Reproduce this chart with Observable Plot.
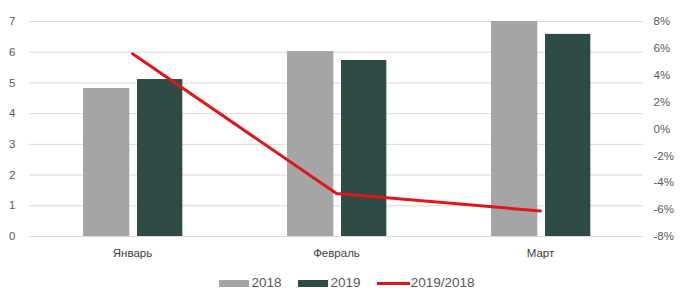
<!DOCTYPE html>
<html><head><meta charset="utf-8">
<script src="https://cdn.jsdelivr.net/npm/d3@7"></script>
<script src="https://cdn.jsdelivr.net/npm/@observablehq/plot@0.6"></script>
<style>
body{margin:0;background:#fff;font-family:"Liberation Sans",Arial,sans-serif;overflow:hidden}
#legend{display:flex;justify-content:center;align-items:center;font-size:13.5px;line-height:14px;color:#595959;height:14px;padding-top:14px;margin-left:12px}
.item{display:flex;align-items:center;margin:0 8px}
.sw{display:inline-block;width:30px;height:7px;margin-right:3px}
.ln{display:inline-block;width:33px;height:3px;margin-right:1px}
</style>
</head><body><div id="chart"></div><div id="legend"></div><script>
const months = ["Январь", "Февраль", "Март"];
const values2018 = [4.82, 6.02, 7.0];
const values2019 = [5.11, 5.73, 6.58];
const ratio = [0.056, -0.048, -0.061];
const leftTicks = [0, 1, 2, 3, 4, 5, 6, 7];
const rightTicks = [-0.08, -0.06, -0.04, -0.02, 0, 0.02, 0.04, 0.06, 0.08];
const seriesNames = ["2018", "2019", "2019/2018"];
const colors = ["#a5a5a5", "#2e4b45", "#e0161b"];

const toLeft = p => (p + 0.08) / 0.16 * 7;
const bars18 = months.map((m, i) => ({month: m, v: values2018[i]}));
const bars19 = months.map((m, i) => ({month: m, v: values2019[i]}));
const line = months.map((m, i) => ({month: m, v: toLeft(ratio[i])}));
const rightTickPos = rightTicks.map(toLeft);
const pctLabel = d3.scaleLinear().domain(rightTickPos).range(rightTicks);

const plot = Plot.plot({
  width: 681,
  height: 262,
  marginLeft: 29,
  marginRight: 38,
  marginTop: 21,
  marginBottom: 26,
  style: {fontFamily: "Liberation Sans, Arial, sans-serif", fontSize: "11.5px", color: "#595959", background: "#fff"},
  x: {domain: months, padding: 0, label: null},
  y: {domain: [0, 7], label: null},
  marks: [
    Plot.gridY(leftTicks, {stroke: "#d9d9d9", strokeOpacity: 1, strokeWidth: 1}),
    Plot.barY(bars18, {x: "month", y: "v", fill: colors[0], insetLeft: 53, insetRight: 104.67}),
    Plot.barY(bars19, {x: "month", y: "v", fill: colors[1], insetLeft: 107, insetRight: 51.67}),
    Plot.line(line, {x: "month", y: "v", stroke: colors[2], strokeWidth: 3}),
    Plot.axisY(leftTicks, {anchor: "left", tickSize: 0, tickPadding: 14, fill: "#595959"}),
    Plot.axisY(rightTickPos, {anchor: "right", tickSize: 0, tickPadding: 10, fill: "#595959",
      tickFormat: v => Math.round(pctLabel(v) * 100) + "%"}),
    Plot.axisX({tickSize: 0, tickPadding: 12, fill: "#404040"})
  ]
});
document.getElementById("chart").appendChild(plot);

const legend = document.getElementById("legend");
seriesNames.forEach((name, i) => {
  const it = document.createElement("span");
  it.className = "item";
  const sw = document.createElement("span");
  sw.className = i < 2 ? "sw" : "ln";
  sw.style.background = colors[i];
  it.appendChild(sw);
  it.appendChild(document.createTextNode(name));
  legend.appendChild(it);
});
</script></body></html>
